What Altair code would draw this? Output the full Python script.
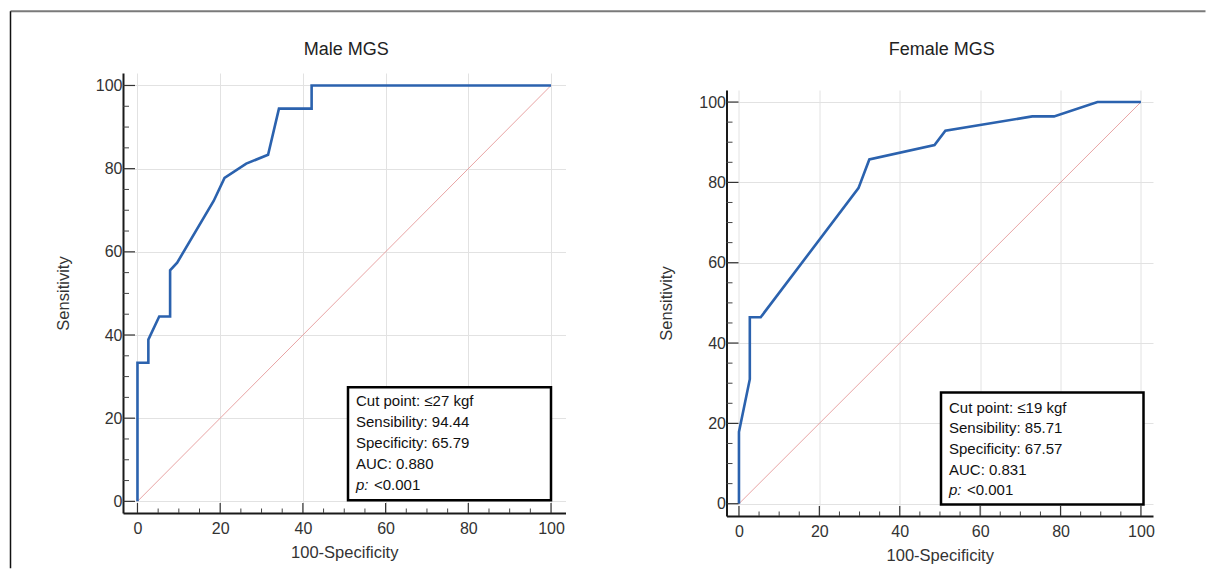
import altair as alt
import pandas as pd

# ---------------- data ----------------
male_fpr = [0, 0, 2.63, 2.63, 5.26, 7.89, 7.89, 9.6, 18.42, 21.05, 26.3, 31.58, 34.21, 42.11, 42.11, 100]
male_sens = [0, 33.33, 33.33, 38.89, 44.44, 44.44, 55.56, 57.4, 72.22, 77.78, 81.2, 83.33, 94.44, 94.44, 100, 100]

female_fpr = [0, 0, 2.70, 2.70, 5.41, 29.73, 32.43, 48.65, 51.35, 72.97, 78.38, 89.19, 100]
female_sens = [0, 17.86, 31.0, 46.43, 46.43, 78.57, 85.71, 89.29, 92.86, 96.43, 96.43, 100, 100]

diag_x = [0, 100]
diag_y = [0, 100]

major_ticks = [0, 20, 40, 60, 80, 100]
minor_ticks = [5, 10, 15, 25, 30, 35, 45, 50, 55, 65, 70, 75, 85, 90, 95]

male_stats = ["Cut point: \u226427 kgf", "Sensibility: 94.44", "Specificity: 65.79", "AUC: 0.880"]
female_stats = ["Cut point: \u226419 kgf", "Sensibility: 85.71", "Specificity: 67.57", "AUC: 0.831"]
p_label = "p:"
p_value = "<0.001"
titles = ["Male MGS", "Female MGS"]

FONT = "Liberation Sans"
ROC_COLOR = "#2b62ae"
DIAG_COLOR = "#e59a9a"


def panel(fpr, sens, stats, title, w, h, xdom, ydom, title_y,
          box, text_x, text_y0, gap, frame=False):
    axis_x = alt.Axis(values=major_ticks, ticks=False, grid=True, gridColor="#e2e2e2",
                      domainColor="#1a1a1a", domainWidth=2, labelFontSize=16,
                      labelColor="#333333", labelPadding=7, title="100-Specificity",
                      titleFontSize=16.5, titleFontWeight="normal", titleColor="#333333",
                      titlePadding=8, labelFlush=False)
    axis_y = alt.Axis(values=major_ticks, ticks=False, grid=True, gridColor="#e2e2e2",
                      domainColor="#1a1a1a", domainWidth=2, labelFontSize=16,
                      labelColor="#333333", labelPadding=1, title="Sensitivity",
                      titleFontSize=16.5, titleFontWeight="normal", titleColor="#333333",
                      titlePadding=24, labelFlush=False)
    xs = alt.Scale(domain=xdom, nice=False, zero=False)
    ys = alt.Scale(domain=ydom, nice=False, zero=False)
    X = alt.X("x:Q", scale=xs, axis=axis_x)
    Y = alt.Y("y:Q", scale=ys, axis=axis_y)

    roc_df = pd.DataFrame({"x": fpr, "y": sens, "i": list(range(len(fpr)))})
    diag_df = pd.DataFrame({"x": diag_x, "y": diag_y})
    one = pd.DataFrame({"t": [0]})

    diag = alt.Chart(diag_df).mark_line(color=DIAG_COLOR, strokeWidth=0.9).encode(x=X, y=Y)
    roc = alt.Chart(roc_df).mark_line(color=ROC_COLOR, strokeWidth=2.6).encode(
        x=X, y=Y, order="i:Q")

    xt_major = alt.Chart(pd.DataFrame({"x": major_ticks})).mark_rule(
        color="#333333", strokeWidth=1.2).encode(x=X, y=alt.value(h), y2=alt.value(h - 10))
    xt_minor = alt.Chart(pd.DataFrame({"x": minor_ticks})).mark_rule(
        color="#444444", strokeWidth=1).encode(x=X, y=alt.value(h), y2=alt.value(h - 4.5))
    yt_major = alt.Chart(pd.DataFrame({"y": major_ticks})).mark_rule(
        color="#333333", strokeWidth=1.2).encode(y=Y, x=alt.value(0), x2=alt.value(12))
    yt_minor = alt.Chart(pd.DataFrame({"y": minor_ticks})).mark_rule(
        color="#444444", strokeWidth=1).encode(y=Y, x=alt.value(0), x2=alt.value(6))

    rect = alt.Chart(one).mark_rect(fill="white", stroke="black", strokeWidth=2.5).encode(
        x=alt.value(box[0]), x2=alt.value(box[1]), y=alt.value(box[2]), y2=alt.value(box[3]))

    ttl = alt.Chart(pd.DataFrame({"t": [title]})).mark_text(
        align="center", baseline="alphabetic", fontSize=18, color="#222222", font=FONT
    ).encode(text="t:N", x=alt.value(w / 2 + 2), y=alt.value(title_y))

    layers = [diag, roc, xt_major, xt_minor, yt_major, yt_minor, rect, ttl]
    for k, s in enumerate(stats):
        layers.append(alt.Chart(pd.DataFrame({"t": [s]})).mark_text(
            align="left", baseline="middle", fontSize=15, color="#111111", font=FONT
        ).encode(text="t:N", x=alt.value(text_x), y=alt.value(text_y0 + k * gap)))
    py = text_y0 + len(stats) * gap
    layers.append(alt.Chart(pd.DataFrame({"t": [p_label]})).mark_text(
        align="left", baseline="middle", fontSize=15, color="#111111", font=FONT,
        fontStyle="italic").encode(text="t:N", x=alt.value(text_x), y=alt.value(py)))
    layers.append(alt.Chart(pd.DataFrame({"t": [p_value]})).mark_text(
        align="left", baseline="middle", fontSize=15, color="#111111", font=FONT
    ).encode(text="t:N", x=alt.value(text_x + 18), y=alt.value(py)))

    if frame:
        layers.append(alt.Chart(one).mark_rule(color="#7a7a7a", strokeWidth=2).encode(
            x=alt.value(-112.5), x2=alt.value(1082.5), y=alt.value(-61.7)))
        layers.append(alt.Chart(one).mark_rule(color="#111111", strokeWidth=1.5).encode(
            x=alt.value(-112.5), y=alt.value(-61.7), y2=alt.value(495.3)))

    return alt.layer(*layers).properties(width=w, height=h)


left = panel(male_fpr, male_sens, male_stats, titles[0], 442.5, 440,
             [-3.5, 103.5], [-2.8, 103], -18.5,
             (225, 428, 314.3, 427.3), 233, 328.3, 20.8, frame=True)
right = panel(female_fpr, female_sens, female_stats, titles[1], 426.5, 426,
              [-3.1, 103], [-3.06, 103], -35,
              (214.5, 417, 302.4, 414.4), 222.5, 317.7, 20.6)

spacer = alt.Chart(pd.DataFrame({"t": [0]})).mark_point(opacity=0).encode(
    x=alt.value(0), y=alt.value(0)).properties(width=426.5, height=16.6)

right_col = alt.vconcat(spacer, right, spacing=0, bounds="flush")

chart = alt.hconcat(left, right_col, spacing=160.5, bounds="flush").properties(
    padding={"left": 1, "top": 1, "right": 0, "bottom": 0}
).configure(font=FONT).configure_view(stroke="transparent").configure_axis(
    labelFont=FONT, titleFont=FONT)

chart.save("out.html", embed_options={"renderer": "svg", "actions": False})
